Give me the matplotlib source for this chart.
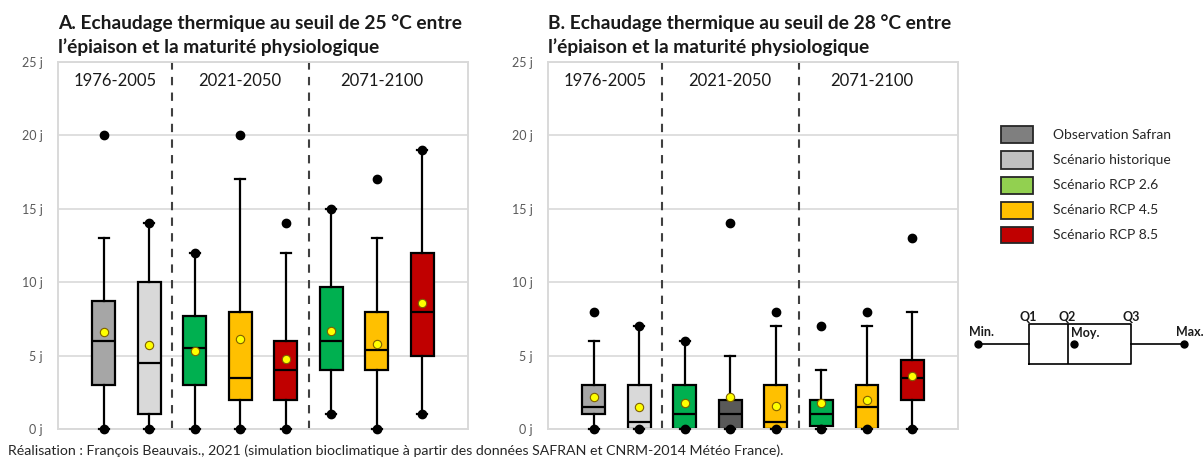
import matplotlib.pyplot as plt
from matplotlib.patches import Rectangle

plt.rcParams['font.family'] = ['Lato', 'DejaVu Sans']

# Statistiques des boîtes (jours d'échaudage) : 8 boîtes par panneau
periodes = ['1976-2005', '2021-2050', '2071-2100']

# A. seuil 25 °C
a_min = [0, 0, 0, 0, 0, 1, 0, 1]
a_wlo = [0, 0, 0, 0, 0, 1, 0, 1]
a_q1 = [3, 1, 3, 2, 2, 4, 4, 5]
a_med = [6, 4.5, 5.5, 3.5, 4, 6, 5.4, 8]
a_q3 = [8.7, 10, 7.7, 8, 6, 9.7, 8, 12]
a_whi = [13, 14, 12, 17, 12, 15, 13, 19]
a_max = [20, 14, 12, 20, 14, 15, 17, 19]
a_moy = [6.6, 5.7, 5.3, 6.1, 4.8, 6.7, 5.8, 8.6]
a_couleurs = ['#A6A6A6', '#D9D9D9', '#00B050', '#FFC000', '#C00000',
              '#00B050', '#FFC000', '#C00000']

# B. seuil 28 °C
b_min = [0, 0, 0, 0, 0, 0, 0, 0]
b_wlo = [0, 0, 0, 0, 0, 0, 0, 0]
b_q1 = [1, 0, 0, 0, 0, 0.2, 0, 2]
b_med = [1.5, 0.5, 1, 1, 0.5, 1, 1.5, 3.5]
b_q3 = [3, 3, 3, 2, 3, 2, 3, 4.7]
b_whi = [6, 7, 6, 5, 7, 4, 7, 8]
b_max = [8, 7, 6, 14, 8, 7, 8, 13]
b_moy = [2.2, 1.5, 1.8, 2.2, 1.6, 1.8, 2.0, 3.6]
b_couleurs = ['#A6A6A6', '#D9D9D9', '#00B050', '#595959', '#FFC000',
              '#00B050', '#FFC000', '#C00000']

legende_noms = ['Observation Safran', 'Scénario historique', 'Scénario RCP 2.6',
                'Scénario RCP 4.5', 'Scénario RCP 8.5']
legende_couleurs = ['#7F7F7F', '#BFBFBF', '#92D050', '#FFC000', '#C00000']

# boîte schématique : Min, Q1, Q2, Q3, Max, Moy.
schema = [0, 4.9, 8.7, 14.9, 20, 9.3]

titres = ['A. Echaudage thermique au seuil de 25 °C entre\nl\u2019épiaison et la maturité physiologique',
          'B. Echaudage thermique au seuil de 28 °C entre\nl\u2019épiaison et la maturité physiologique']

W, H = 1204, 459
fig = plt.figure(figsize=(W / 100, H / 100), dpi=100)


def px(x0, y0, w, h):
    return [x0 / W, 1 - (y0 + h) / H, w / W, h / H]


def panneau(ax, vmin, wlo, q1, med, q3, whi, vmax, moy, couleurs, titre):
    stats = []
    for i in range(len(med)):
        stats.append(dict(med=med[i], q1=q1[i], q3=q3[i], whislo=wlo[i],
                          whishi=whi[i], mean=moy[i], fliers=[vmin[i], vmax[i]]))
    res = ax.bxp(stats, positions=range(1, len(med) + 1), widths=0.5,
                 capwidths=0.22, patch_artist=True, showmeans=True,
                 boxprops=dict(edgecolor='black', linewidth=1.6),
                 medianprops=dict(color='black', linewidth=1.6),
                 whiskerprops=dict(color='black', linewidth=1.6),
                 capprops=dict(color='black', linewidth=1.6),
                 meanprops=dict(marker='o', markerfacecolor='#FFFF00',
                                markeredgecolor='#7F6000', markersize=6,
                                markeredgewidth=0.8),
                 flierprops=dict(marker='o', markerfacecolor='black',
                                 markeredgecolor='black', markersize=6))
    for patch, c in zip(res['boxes'], couleurs):
        patch.set_facecolor(c)
    for art in res['fliers'] + res['means'] + res['caps'] + res['whiskers']:
        art.set_clip_on(False)
        art.set_zorder(4)

    ax.set_xlim(0, 9)
    ax.set_ylim(0, 25)
    ax.set_yticks([0, 5, 10, 15, 20, 25])
    ax.set_yticklabels(['0 j', '5 j', '10 j', '15 j', '20 j', '25 j'])
    ax.tick_params(axis='y', length=0, pad=11, labelsize=9, labelcolor='#595959')
    ax.set_xticks([])
    ax.grid(axis='y', color='#D9D9D9', linewidth=1.2)
    ax.set_axisbelow(True)
    for s in ax.spines.values():
        s.set_color('#D9D9D9')
        s.set_linewidth(1.4)

    for x in [2.5, 5.5]:
        ax.axvline(x, color='#404040', linestyle=(0, (4, 3.5)), linewidth=1.5, zorder=1)
    for x, p in zip([1.25, 4.0, 7.1], periodes):
        ax.text(x, 23.7, p, ha='center', va='center', fontsize=12, color='#1a1a1a')

    ax.text(0, 1.015, titre, transform=ax.transAxes, ha='left', va='bottom',
            fontsize=13.8, fontweight='bold', color='#1a1a1a', linespacing=1.45)


axA = fig.add_axes(px(58, 62, 410, 367))
panneau(axA, a_min, a_wlo, a_q1, a_med, a_q3, a_whi, a_max, a_moy, a_couleurs, titres[0])
axB = fig.add_axes(px(548, 62, 410, 367))
panneau(axB, b_min, b_wlo, b_q1, b_med, b_q3, b_whi, b_max, b_moy, b_couleurs, titres[1])

# légende
for i, (nom, c) in enumerate(zip(legende_noms, legende_couleurs)):
    yc = 135 + 25 * i
    fig.patches.append(Rectangle((1001 / W, 1 - (yc + 8.5) / H), 32 / W, 17 / H,
                                 transform=fig.transFigure, facecolor=c,
                                 edgecolor='#262626', linewidth=1.3))
    fig.text(1053 / W, 1 - yc / H, nom, ha='left', va='center', fontsize=10,
             color='#262626')

# boîte schématique
axS = fig.add_axes(px(968, 300, 226, 80))
axS.axis('off')
axS.set_xlim(-1, 21)
axS.set_ylim(0, 8)
rs = axS.bxp([dict(whislo=schema[0], q1=schema[1], med=schema[2], q3=schema[3],
                   whishi=schema[4], mean=schema[5], fliers=[schema[0], schema[4]])],
             positions=[3.6], widths=4.0, vert=False, showcaps=False, showmeans=True,
             boxprops=dict(color='black', linewidth=1.2),
             medianprops=dict(color='black', linewidth=1.2),
             whiskerprops=dict(color='black', linewidth=1.2),
             meanprops=dict(marker='o', markerfacecolor='black',
                            markeredgecolor='black', markersize=5),
             flierprops=dict(marker='o', markerfacecolor='black',
                             markeredgecolor='black', markersize=5))
for a in rs['fliers'] + rs['means']:
    a.set_clip_on(False)
for x, t in zip([schema[1], schema[2], schema[3]], ['Q1', 'Q2', 'Q3']):
    axS.text(x, 6.3, t, ha='center', va='center', fontsize=9, fontweight='bold',
             color='#1a1a1a')
axS.text(schema[0] + 0.3, 4.8, 'Min.', ha='center', va='center', fontsize=9,
         fontweight='bold', color='#1a1a1a')
axS.text(schema[4] + 0.6, 4.8, 'Max.', ha='center', va='center', fontsize=9,
         fontweight='bold', color='#1a1a1a')
axS.text(schema[2] + 0.3, 4.7, 'Moy.', ha='left', va='center', fontsize=9,
         fontweight='bold', color='#1a1a1a')

fig.text(8 / W, 1 - 451 / H,
         'Réalisation : François Beauvais., 2021 (simulation bioclimatique à partir '
         'des données SAFRAN et CNRM-2014 Météo France).',
         ha='left', va='center', fontsize=10.2, color='#262626')

fig.savefig('out.png', dpi=100)
